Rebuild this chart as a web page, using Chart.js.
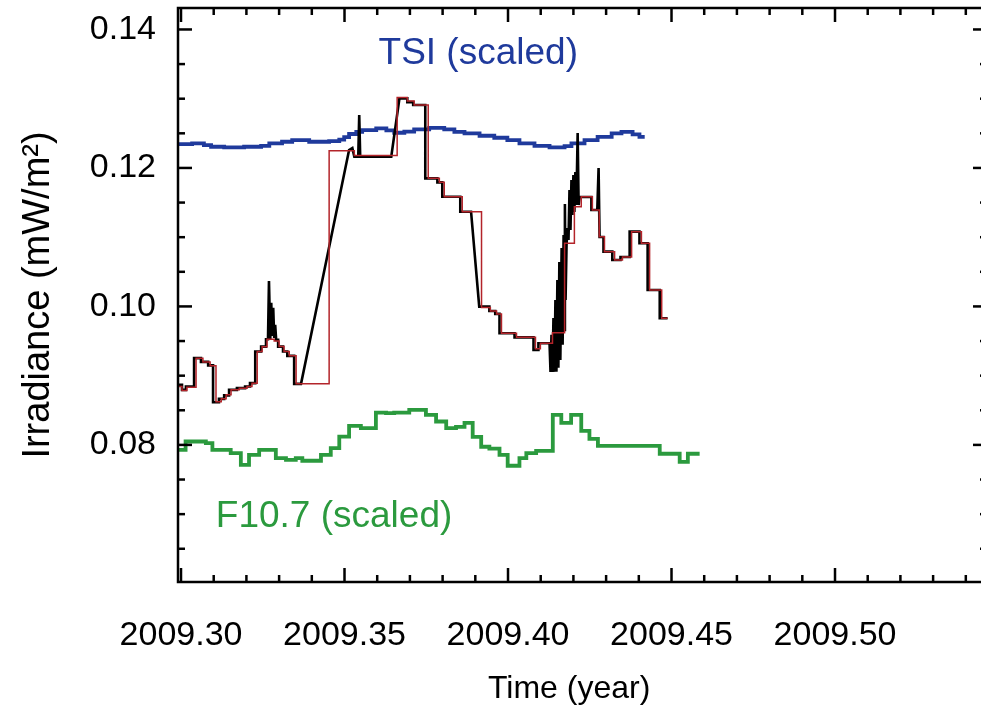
<!DOCTYPE html>
<html>
<head>
<meta charset="utf-8">
<script src="https://cdn.jsdelivr.net/npm/chart.js@4.4.1/dist/chart.umd.min.js"></script>
<style>
  html, body { margin: 0; padding: 0; background: #fff; overflow: hidden; }
  #wrap { width: 990px; height: 713px; }
</style>
</head>
<body>
<div id="wrap"><canvas id="irrChart" width="990" height="713"></canvas></div>
<script>
// Axis ranges (years / mW m^-2)
const xMin = 2009.29908;
const xMax = 2009.54648;
const yMin = 0.0602;
const yMax = 0.1431;
const xStep = 0.05;
const yStep = 0.02;

// Daily averaged irradiance (red, step)
const dailyTime = [2009.2988, 2009.3003, 2009.3018, 2009.3046, 2009.3067, 2009.3089, 2009.3107, 2009.3123,
    2009.3138, 2009.3153, 2009.3178, 2009.3202, 2009.3217, 2009.3233, 2009.3248, 2009.3263, 2009.3285,
    2009.3300, 2009.3315, 2009.3331, 2009.3352, 2009.3453, 2009.3530, 2009.3661, 2009.3692, 2009.3713,
    2009.3756, 2009.3790, 2009.3805, 2009.3860, 2009.3919, 2009.3946, 2009.3965, 2009.3980, 2009.4026,
    2009.4084, 2009.4099, 2009.4136, 2009.4173, 2009.4203, 2009.4224, 2009.4258, 2009.4279, 2009.4295,
    2009.4326, 2009.4350, 2009.4378, 2009.4408, 2009.4433, 2009.4470, 2009.4488];
const dailyIrr = [0.08843, 0.08785, 0.08831, 0.09253, 0.09199, 0.09142, 0.08622, 0.08665,
    0.08723, 0.08795, 0.08820, 0.08843, 0.08892, 0.09348, 0.09416, 0.09527, 0.09502,
    0.09420, 0.09348, 0.09286, 0.08882, 0.12248, 0.12179, 0.13016, 0.12966, 0.12908,
    0.11850, 0.11792, 0.11585, 0.11368, 0.09986, 0.09935, 0.09892, 0.09613, 0.09553,
    0.09387, 0.09469, 0.09618, 0.10912, 0.11440, 0.11585, 0.11393, 0.11007, 0.10791,
    0.10671, 0.10714, 0.11080, 0.10912, 0.10238, 0.09830, 0.09830];

// Full cadence irradiance (black)
const fullTime = [2009.2988, 2009.3003, 2009.3003, 2009.3015, 2009.3015, 2009.3040, 2009.3040, 2009.3061,
    2009.3061, 2009.3083, 2009.3083, 2009.3098, 2009.3098, 2009.3116, 2009.3116, 2009.3132, 2009.3132,
    2009.3147, 2009.3147, 2009.3171, 2009.3171, 2009.3196, 2009.3196, 2009.3211, 2009.3211, 2009.3227,
    2009.3227, 2009.3245, 2009.3245, 2009.3260, 2009.3260, 2009.3266, 2009.3269, 2009.3273, 2009.3276,
    2009.3279, 2009.3282, 2009.3285, 2009.3288, 2009.3291, 2009.3297, 2009.3297, 2009.3312, 2009.3312,
    2009.3325, 2009.3325, 2009.3346, 2009.3346, 2009.3367, 2009.3514, 2009.3524, 2009.3530, 2009.3542,
    2009.3545, 2009.3548, 2009.3643, 2009.3668, 2009.3692, 2009.3692, 2009.3710, 2009.3710, 2009.3747,
    2009.3747, 2009.3784, 2009.3784, 2009.3799, 2009.3799, 2009.3854, 2009.3854, 2009.3887, 2009.3912,
    2009.3943, 2009.3943, 2009.3961, 2009.3961, 2009.3974, 2009.3974, 2009.4020, 2009.4020, 2009.4078,
    2009.4078, 2009.4093, 2009.4093, 2009.4127, 2009.4130, 2009.4133, 2009.4136, 2009.4139, 2009.4142,
    2009.4145, 2009.4148, 2009.4151, 2009.4154, 2009.4157, 2009.4160, 2009.4164, 2009.4167, 2009.4170,
    2009.4173, 2009.4174, 2009.4176, 2009.4179, 2009.4182, 2009.4185, 2009.4188, 2009.4191, 2009.4194,
    2009.4197, 2009.4200, 2009.4203, 2009.4206, 2009.4209, 2009.4213, 2009.4216, 2009.4219, 2009.4255,
    2009.4255, 2009.4273, 2009.4277, 2009.4280, 2009.4292, 2009.4292, 2009.4319, 2009.4319, 2009.4344,
    2009.4344, 2009.4372, 2009.4372, 2009.4402, 2009.4402, 2009.4427, 2009.4427, 2009.4464, 2009.4464,
    2009.4488];
const fullIrr = [0.08867, 0.08867, 0.08795, 0.08795, 0.08843, 0.08843, 0.09253, 0.09253,
    0.09199, 0.09199, 0.09149, 0.09149, 0.08615, 0.08615, 0.08665, 0.08665, 0.08716,
    0.08716, 0.08795, 0.08795, 0.08820, 0.08820, 0.08843, 0.08843, 0.08892, 0.08892,
    0.09348, 0.09348, 0.09420, 0.09420, 0.09527, 0.09527, 0.10368, 0.09531, 0.10051,
    0.09575, 0.09979, 0.09546, 0.09733, 0.09517, 0.09517, 0.09420, 0.09420, 0.09348,
    0.09348, 0.09286, 0.09286, 0.08882, 0.08882, 0.12258, 0.12287, 0.12162, 0.12162,
    0.12764, 0.12162, 0.12162, 0.13005, 0.13005, 0.12951, 0.12951, 0.12908, 0.12908,
    0.11850, 0.11850, 0.11792, 0.11792, 0.11585, 0.11585, 0.11368, 0.11368, 0.09997,
    0.09997, 0.09935, 0.09935, 0.09892, 0.09892, 0.09613, 0.09613, 0.09553, 0.09553,
    0.09372, 0.09372, 0.09469, 0.09469, 0.09055, 0.09589, 0.09055, 0.09834, 0.09055,
    0.10094, 0.09055, 0.10383, 0.09113, 0.10642, 0.09228, 0.10844, 0.09445, 0.11032,
    0.09661, 0.11479, 0.10094, 0.10888, 0.11133, 0.10960, 0.11681, 0.11104, 0.11826,
    0.11321, 0.11898, 0.11364, 0.11941, 0.11465, 0.12504, 0.11465, 0.11580, 0.11580,
    0.11393, 0.11393, 0.11999, 0.11003, 0.11003, 0.10791, 0.10791, 0.10671, 0.10671,
    0.10714, 0.10714, 0.11080, 0.11080, 0.10912, 0.10912, 0.10238, 0.10238, 0.09830,
    0.09830];

// TSI (scaled), blue
const tsiTime = [2009.2988, 2009.3034, 2009.3070, 2009.3092, 2009.3132, 2009.3193, 2009.3245, 2009.3270,
    2009.3309, 2009.3340, 2009.3392, 2009.3453, 2009.3484, 2009.3499, 2009.3514, 2009.3536, 2009.3554,
    2009.3597, 2009.3628, 2009.3652, 2009.3683, 2009.3713, 2009.3759, 2009.3805, 2009.3836, 2009.3867,
    2009.3913, 2009.3958, 2009.3998, 2009.4035, 2009.4081, 2009.4127, 2009.4173, 2009.4194, 2009.4234,
    2009.4274, 2009.4317, 2009.4347, 2009.4381, 2009.4402, 2009.4418];
const tsiIrr = [0.12345, 0.12355, 0.12330, 0.12306, 0.12297, 0.12306, 0.12320, 0.12355,
    0.12378, 0.12403, 0.12378, 0.12388, 0.12410, 0.12445, 0.12490, 0.12522, 0.12547,
    0.12571, 0.12542, 0.12508, 0.12525, 0.12557, 0.12580, 0.12557, 0.12522, 0.12499,
    0.12465, 0.12436, 0.12403, 0.12355, 0.12320, 0.12297, 0.12316, 0.12355, 0.12403,
    0.12450, 0.12499, 0.12522, 0.12485, 0.12450, 0.12450];

// F10.7 (scaled), green
const f107Time = [2009.2988, 2009.3014, 2009.3076, 2009.3096, 2009.3152, 2009.3183, 2009.3208, 2009.3239,
    2009.3290, 2009.3321, 2009.3351, 2009.3371, 2009.3428, 2009.3458, 2009.3484, 2009.3514, 2009.3550,
    2009.3596, 2009.3627, 2009.3652, 2009.3698, 2009.3749, 2009.3780, 2009.3811, 2009.3841, 2009.3867,
    2009.3892, 2009.3918, 2009.3943, 2009.3974, 2009.3999, 2009.4035, 2009.4056, 2009.4086, 2009.4137,
    2009.4163, 2009.4193, 2009.4224, 2009.4249, 2009.4275, 2009.4464, 2009.4525, 2009.4550, 2009.4586];
const f107Irr = [0.07929, 0.08049, 0.08026, 0.07929, 0.07882, 0.07713, 0.07857, 0.07929,
    0.07810, 0.07785, 0.07810, 0.07771, 0.07857, 0.07954, 0.08121, 0.08276, 0.08243,
    0.08467, 0.08459, 0.08467, 0.08506, 0.08434, 0.08338, 0.08243, 0.08261, 0.08319,
    0.08117, 0.07973, 0.07945, 0.07857, 0.07699, 0.07810, 0.07882, 0.07915, 0.08434,
    0.08319, 0.08434, 0.08203, 0.08088, 0.07987, 0.07872, 0.07756, 0.07872, 0.07872];

// In-plot labels (anchor in data units)
const seriesLabels = [
    { text: 'TSI (scaled)', x: 2009.3909, y: 0.13644, color: '#1f3a9c' },
    { text: 'F10.7 (scaled)', x: 2009.3468, y: 0.06963, color: '#2b9a3e' }
];

const FONT = "'Liberation Sans', Arial, sans-serif";
const pts = (xs, ys) => xs.map((t, i) => ({ x: t, y: ys[i] }));
// major ticks on whole multiples of the step inside the range
const stepTicks = step => scale => {
    const out = [];
    for (let k = Math.ceil(scale.min / step - 1e-6); k * step <= scale.max + 1e-9; k++) {
        out.push({ value: k * step });
    }
    scale.ticks = out;
};

// Box frame with IDL style inward ticks on all four sides
const frameTicks = {
    id: 'frameTicks',
    afterDatasetsDraw(chart) {
        const { ctx, chartArea: a, scales: { x, y } } = chart;
        ctx.save();
        ctx.strokeStyle = '#000';
        ctx.lineWidth = 2.5;
        ctx.strokeRect(a.left, a.top, a.right - a.left, a.bottom - a.top);
        const line = (x1, y1, x2, y2) => {
            ctx.beginPath(); ctx.moveTo(x1, y1); ctx.lineTo(x2, y2); ctx.stroke();
        };
        for (let k = Math.ceil(x.min / 0.01 - 1e-6); k * 0.01 <= x.max; k++) {
            const px = x.getPixelForValue(k * 0.01);
            const len = k % 5 === 0 ? 14 : 7;
            line(px, a.bottom, px, a.bottom - len);
            line(px, a.top, px, a.top + len);
        }
        for (let k = Math.ceil(y.min / 0.005 - 1e-6); k * 0.005 <= y.max; k++) {
            const py = y.getPixelForValue(k * 0.005);
            const len = k % 4 === 0 ? 14 : 7;
            line(a.left, py, a.left + len, py);
            line(a.right, py, a.right - len, py);
        }
        ctx.restore();
    },
    afterDraw(chart) {
        const { ctx, scales: { x, y } } = chart;
        ctx.save();
        ctx.font = '37px ' + FONT;
        ctx.textAlign = 'center';
        ctx.textBaseline = 'middle';
        seriesLabels.forEach(l => {
            ctx.fillStyle = l.color;
            ctx.fillText(l.text, x.getPixelForValue(l.x), y.getPixelForValue(l.y));
        });
        ctx.restore();
    }
};

const ctx = document.getElementById('irrChart').getContext('2d');
new Chart(ctx, {
    type: 'line',
    data: {
        datasets: [
            {
                label: 'Daily',
                data: pts(dailyTime, dailyIrr),
                borderColor: '#b3242a',
                borderWidth: 1.5,
                stepped: 'before',
                pointRadius: 0,
                fill: false
            },
            {
                label: 'Full cadence',
                data: pts(fullTime, fullIrr),
                borderColor: '#000000',
                borderWidth: 2.6,
                pointRadius: 0,
                tension: 0,
                fill: false
            },
            {
                label: 'TSI (scaled)',
                data: pts(tsiTime, tsiIrr),
                borderColor: '#1f3a9c',
                borderWidth: 3.8,
                stepped: 'before',
                pointRadius: 0,
                fill: false
            },
            {
                label: 'F10.7 (scaled)',
                data: pts(f107Time, f107Irr),
                borderColor: '#2b9a3e',
                borderWidth: 3.8,
                stepped: 'before',
                pointRadius: 0,
                fill: false
            }
        ]
    },
    options: {
        responsive: false,
        devicePixelRatio: 1,
        animation: false,
        layout: { padding: { top: 8, right: 3, left: 0, bottom: 0 } },
        plugins: {
            legend: { display: false },
            tooltip: { enabled: false }
        },
        scales: {
            x: {
                type: 'linear',
                bounds: 'data',
                min: xMin,
                max: xMax,
                afterBuildTicks: stepTicks(xStep),
                afterFit(scale) {
                    scale.height = 131;
                    scale.paddingLeft = 0;
                    scale.paddingRight = 0;
                },
                grid: { display: false },
                border: { display: false },
                ticks: {
                    autoSkip: false,
                    maxRotation: 0,
                    padding: 25,
                    color: '#000',
                    font: { family: FONT, size: 34 },
                    callback: v => Number(v).toFixed(2)
                },
                title: {
                    display: true,
                    text: 'Time (year)\u00a0\u00a0\u00a0',
                    color: '#000',
                    font: { family: FONT, size: 32 },
                    padding: { top: 0, bottom: 5 }
                }
            },
            y: {
                type: 'linear',
                bounds: 'data',
                min: yMin,
                max: yMax,
                afterBuildTicks: stepTicks(yStep),
                afterFit(scale) {
                    scale.width = 178;
                    scale.paddingTop = 0;
                    scale.paddingBottom = 0;
                },
                grid: { display: false },
                border: { display: false },
                ticks: {
                    autoSkip: false,
                    padding: 14,
                    color: '#000',
                    font: { family: FONT, size: 34 },
                    callback: v => Number(v).toFixed(2)
                },
                title: {
                    display: true,
                    text: 'Irradiance (mW/m²)',
                    color: '#000',
                    font: { family: FONT, size: 38 },
                    padding: { top: 16, bottom: 0 }
                }
            }
        }
    },
    plugins: [frameTicks]
});
</script>
</body>
</html>
